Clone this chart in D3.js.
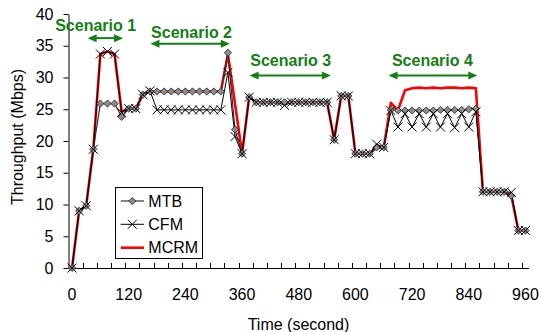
<!DOCTYPE html>
<html><head><meta charset="utf-8">
<script src="https://cdn.jsdelivr.net/npm/d3@7"></script>
<style>
body{margin:0;background:#fff}
svg{display:block}
text{font-family:"Liberation Sans", Arial, sans-serif;fill:#000}
</style>
</head><body>
<svg id="chart" width="542" height="332"></svg>
<script>
// time (s), one sample every 15 s
const times = [0,15,30,45,60,75,90,105,120,135,150,165,180,195,210,225,240,255,270,285,300,315,330,345,360,375,390,405,420,435,450,465,480,495,510,525,540,555,570,585,600,615,630,645,660,675,690,705,720,735,750,765,780,795,810,825,840,855,870,885,900,915,930,945,960];
const mtb  = [0,9.0,9.8,18.7,25.9,25.9,25.9,23.8,25.1,25.1,27.3,27.8,27.8,27.8,27.8,27.8,27.8,27.8,27.8,27.8,27.8,27.8,33.9,21.8,18.0,26.9,26.1,26.1,26.1,26.1,26.1,26.1,26.1,26.1,26.1,26.1,26.1,20.2,27.1,27.1,18.0,18.0,18.0,19.0,19.0,24.9,24.8,24.8,24.8,24.8,24.8,24.8,24.9,24.9,24.9,24.9,25.0,25.1,12.0,12.0,12.0,12.0,11.4,5.9,5.9];
const cfm  = [0,9.0,9.8,18.7,33.7,34.1,33.7,24.5,25.1,25.1,27.3,27.9,24.9,24.9,24.9,24.9,24.9,24.9,24.9,24.9,24.9,24.9,30.8,20.7,18.0,26.9,26.1,26.1,26.1,26.1,25.6,26.1,26.1,26.1,26.1,26.1,26.1,20.2,27.1,27.1,18.0,18.0,18.0,19.5,19.0,24.8,22.2,24.3,22.2,24.3,22.2,24.3,22.2,24.3,22.1,24.3,22.2,24.6,12.0,12.0,12.0,12.0,11.9,5.9,5.9];
const mcrm = [0,9.0,9.8,18.7,33.7,34.1,33.7,24.6,25.1,25.1,27.3,27.8,27.8,27.8,27.8,27.8,27.8,27.8,27.8,27.8,27.8,27.8,33.7,25.9,18.0,26.9,26.1,26.1,26.1,26.1,26.1,26.1,26.1,26.1,26.1,26.1,26.1,20.2,27.1,27.1,18.0,18.0,18.0,19.0,19.0,26.0,24.8,28.0,28.3,28.4,28.3,28.4,28.3,28.4,28.4,28.3,28.4,28.3,12.0,12.0,12.0,12.0,11.4,5.9,5.9];

const seriesNames = ["MTB","CFM","MCRM"];
const yTicks = [0,5,10,15,20,25,30,35,40];
const xLabels = [0,120,240,360,480,600,720,840,960];
const xTickMarks = [22.5,52.5,82.5,112.5,142.5,172.5,202.5,232.5,262.5,292.5,322.5,352.5,382.5,412.5,442.5,472.5,502.5,532.5,562.5,592.5,622.5,652.5,682.5,712.5,742.5,772.5,802.5,832.5,862.5,892.5,922.5,952.5];

const scenarioLabels = ["Scenario 1","Scenario 2","Scenario 3","Scenario 4"];
const scenarioStart  = [33,166,376,670];
const scenarioEnd    = [108,334,548,858];
const scenarioArrowY = [36.2,35.3,30.3,30.3];
const scenarioTextX  = [50,253,463,763];
const scenarioTextY  = [37.4,36.2,31.8,31.8];

const svg = d3.select("#chart");
const x = d3.scaleLinear().domain([-7.5, 967.5]).range([68.5, 529]);
const y = d3.scaleLinear().domain([0, 40]).range([268, 14]);
const green = "#138013";

// axes
const yAxis = d3.axisLeft(y).tickValues(yTicks).tickSize(5).tickSizeOuter(0).tickPadding(10);
const gy = svg.append("g").attr("transform","translate(68.5,0)").call(yAxis);
gy.selectAll("text").style("font-size","16px").style("font-family",'"Liberation Sans", Arial, sans-serif');
gy.select(".domain").attr("stroke","#000");

const gx = svg.append("g");
gx.append("line").attr("x1",68.5).attr("x2",529).attr("y1",268.5).attr("y2",268.5).attr("stroke","#000");
gx.selectAll("line.t").data(xTickMarks).join("line").attr("class","t")
  .attr("x1",d=>Math.round(x(d))+0.5).attr("x2",d=>Math.round(x(d))+0.5)
  .attr("y1",263).attr("y2",268).attr("stroke","#000");
gx.selectAll("text").data(xLabels).join("text")
  .attr("x",d=>x(d)).attr("y",300).attr("text-anchor","middle")
  .style("font-size","16px").text(d=>d);

svg.append("text").attr("x",298.5).attr("y",329.5).attr("text-anchor","middle")
  .style("font-size","16px").text("Time (second)");
svg.append("text").attr("transform","translate(22.5,137) rotate(-90)").attr("text-anchor","middle")
  .style("font-size","16px").text("Throughput (Mbps)");

// series
const idx = d3.range(times.length);
const lineOf = arr => d3.line().x(i=>x(times[i])).y(i=>y(arr[i]));

svg.append("path").attr("d",lineOf(mcrm)(idx)).attr("fill","none").attr("stroke","#ff0000").attr("stroke-width",2.6).attr("stroke-linejoin","round");
svg.append("path").attr("d",lineOf(mtb)(idx)).attr("fill","none").attr("stroke","#333").attr("stroke-width",1.2);
svg.append("path").attr("d",lineOf(cfm)(idx)).attr("fill","none").attr("stroke","#000").attr("stroke-width",1);

const dr = 3.6, xr = 4.5;
const diamond = `M0,${-dr}L${dr},0L0,${dr}L${-dr},0Z`;
const cross = `M${-xr},${-xr}L${xr},${xr}M${-xr},${xr}L${xr},${-xr}`;

svg.append("g").selectAll("path").data(idx).join("path")
  .attr("transform",i=>`translate(${x(times[i])},${y(mtb[i])})`)
  .attr("d",diamond).attr("fill","#8c8c8c").attr("stroke","#222").attr("stroke-width",0.8);
svg.append("g").selectAll("path").data(idx).join("path")
  .attr("transform",i=>`translate(${x(times[i])},${y(cfm[i])})`)
  .attr("d",cross).attr("fill","none").attr("stroke","#000").attr("stroke-width",1);

// scenario annotations
const ann = svg.append("g");
scenarioLabels.forEach((lab,k)=>{
  const x1 = x(scenarioStart[k]), x2 = x(scenarioEnd[k]), yy = y(scenarioArrowY[k]);
  ann.append("line").attr("x1",x1+6).attr("x2",x2-6).attr("y1",yy).attr("y2",yy)
    .attr("stroke",green).attr("stroke-width",2);
  ann.append("path").attr("d",`M${x1},${yy}L${x1+9},${yy-4}L${x1+9},${yy+4}Z`).attr("fill",green);
  ann.append("path").attr("d",`M${x2},${yy}L${x2-9},${yy-4}L${x2-9},${yy+4}Z`).attr("fill",green);
  ann.append("text").attr("x",x(scenarioTextX[k])).attr("y",y(scenarioTextY[k]))
    .attr("text-anchor","middle").style("font-size","16px").style("font-weight","bold")
    .style("fill",green).text(lab);
});

// legend
const lg = svg.append("g");
lg.append("rect").attr("x",115.5).attr("y",187.5).attr("width",87).attr("height",71)
  .attr("fill","#fff").attr("stroke","#000").attr("stroke-width",1);
const ly = [201,224.3,247.7];
seriesNames.forEach((nm,k)=>{
  const yy = ly[k];
  const col = k===2 ? "#ff0000" : (k===0 ? "#333" : "#000");
  lg.append("line").attr("x1",120.7).attr("x2",144).attr("y1",yy).attr("y2",yy)
    .attr("stroke",col).attr("stroke-width",k===2?2.6:(k===0?1.2:1));
  if(k===0) lg.append("path").attr("transform",`translate(132.3,${yy})`).attr("d",diamond)
    .attr("fill","#8c8c8c").attr("stroke","#222").attr("stroke-width",0.8);
  if(k===1) lg.append("path").attr("transform",`translate(132.3,${yy})`).attr("d",cross)
    .attr("fill","none").attr("stroke","#000").attr("stroke-width",1);
  lg.append("text").attr("x",148.3).attr("y",yy+5.7).style("font-size","16px").text(nm);
});
</script>
</body></html>
